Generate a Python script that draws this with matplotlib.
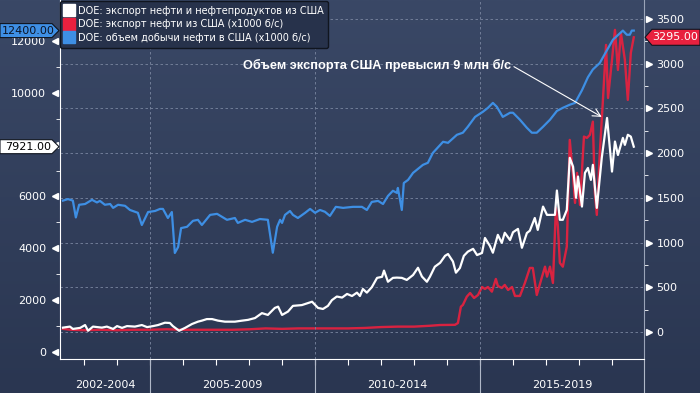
import numpy as np
import matplotlib.pyplot as plt
import matplotlib.transforms as mtrans
from matplotlib.patches import Polygon
from matplotlib.lines import Line2D
from matplotlib.colors import LinearSegmentedColormap

# US crude production, kb/d (left axis)
blue_x = [2002.36, 2002.51, 2002.66, 2002.75, 2002.85, 2003.03, 2003.24, 2003.39, 2003.48, 2003.63,
          2003.79, 2003.88, 2004.03, 2004.24, 2004.39, 2004.63, 2004.75, 2004.94, 2005.15, 2005.30,
          2005.39, 2005.54, 2005.66, 2005.75, 2005.85, 2005.94, 2006.12, 2006.30, 2006.45, 2006.57,
          2006.82, 2007.03, 2007.33, 2007.57, 2007.66, 2007.88, 2008.09, 2008.33, 2008.57, 2008.72,
          2008.85, 2008.94, 2009.00, 2009.09, 2009.24, 2009.33, 2009.48, 2009.70, 2009.85, 2010.00,
          2010.15, 2010.30, 2010.45, 2010.63, 2010.85, 2011.15, 2011.42, 2011.57, 2011.72, 2011.91,
          2012.06, 2012.21, 2012.36, 2012.48, 2012.51, 2012.63, 2012.69, 2012.82, 2012.97, 2013.27,
          2013.42, 2013.57, 2013.88, 2014.03, 2014.30, 2014.48, 2014.63, 2014.85, 2015.09, 2015.24,
          2015.39, 2015.51, 2015.69, 2015.91, 2016.00, 2016.21, 2016.42, 2016.57, 2016.72, 2016.91,
          2017.12, 2017.33, 2017.51, 2017.72, 2017.88, 2018.09, 2018.27, 2018.42, 2018.63, 2018.85,
          2019.03, 2019.33, 2019.45, 2019.54, 2019.60, 2019.66]
blue_v = [5840, 5900, 5840, 5190, 5680, 5710, 5870, 5770, 5830, 5680,
          5710, 5560, 5680, 5640, 5480, 5370, 4900, 5400, 5440, 5520,
          5520, 5170, 5400, 3820, 4050, 4780, 4830, 5060, 5100, 4900,
          5290, 5330, 5100, 5170, 4980, 5100, 5020, 5130, 5100, 3830,
          4830, 5100, 4980, 5290, 5440, 5290, 5170, 5370, 5520, 5370,
          5480, 5410, 5250, 5600, 5560, 5600, 5600, 5480, 5790, 5830,
          5710, 6020, 6220, 6140, 6330, 5480, 6520, 6640, 6910, 7220,
          7300, 7680, 8110, 8070, 8380, 8460, 8690, 9070, 9270, 9420,
          9610, 9460, 9070, 9230, 9230, 8960, 8650, 8460, 8460, 8690,
          8960, 9300, 9420, 9540, 9610, 10100, 10600, 10900, 11150, 11650,
          12050, 12400, 12240, 12240, 12400, 12400]

# crude + products exports, kb/d (left axis)
white_x = [2002.36, 2002.57, 2002.66, 2002.88, 2003.03, 2003.12, 2003.27, 2003.54, 2003.69, 2003.88,
           2004.00, 2004.15, 2004.30, 2004.54, 2004.75, 2004.91, 2005.09, 2005.24, 2005.45, 2005.60,
           2005.69, 2005.88, 2006.06, 2006.27, 2006.45, 2006.57, 2006.72, 2006.88, 2007.06, 2007.27,
           2007.57, 2007.79, 2007.97, 2008.18, 2008.39, 2008.57, 2008.78, 2008.88, 2009.00, 2009.18,
           2009.33, 2009.60, 2009.91, 2010.09, 2010.24, 2010.39, 2010.51, 2010.66, 2010.82, 2010.97,
           2011.12, 2011.27, 2011.36, 2011.45, 2011.57, 2011.72, 2011.88, 2012.03, 2012.09, 2012.21,
           2012.36, 2012.48, 2012.63, 2012.78, 2012.97, 2013.12, 2013.24, 2013.39, 2013.48, 2013.63,
           2013.79, 2013.94, 2014.03, 2014.18, 2014.27, 2014.39, 2014.51, 2014.63, 2014.79, 2014.91,
           2015.06, 2015.15, 2015.30, 2015.39, 2015.54, 2015.66, 2015.75, 2015.91, 2016.00, 2016.15,
           2016.27, 2016.42, 2016.51, 2016.66, 2016.75, 2016.91, 2017.03, 2017.18, 2017.27, 2017.33,
           2017.42, 2017.51, 2017.63, 2017.72, 2017.82, 2017.91, 2017.97, 2018.09, 2018.18, 2018.27,
           2018.36, 2018.42, 2018.54, 2018.69, 2018.85, 2018.94, 2019.00, 2019.09, 2019.18, 2019.33,
           2019.39, 2019.48, 2019.57, 2019.66]
white_v = [940, 980, 890, 930, 1040, 820, 980, 940, 980, 890,
           1000, 930, 1000, 980, 1040, 960, 1000, 1040, 1130, 1120,
           1000, 820, 930, 1080, 1170, 1210, 1270, 1270, 1210, 1170,
           1170, 1210, 1240, 1310, 1500, 1430, 1700, 1750, 1430, 1560,
           1780, 1810, 1940, 1700, 1660, 1780, 2000, 2140, 2100, 2240,
           2160, 2290, 2160, 2430, 2290, 2500, 2860, 2900, 3140, 2710,
           2860, 2870, 2860, 2780, 2970, 3250, 2910, 2710, 2900, 3290,
           3440, 3710, 3780, 3490, 3060, 3240, 3710, 3870, 3980, 3740,
           3820, 4400, 4090, 3830, 4520, 4210, 4600, 4320, 4620, 4750,
           4020, 4590, 4680, 5170, 4710, 5610, 5290, 5290, 5290, 6230,
           5100, 5100, 5480, 7490, 7150, 5950, 6770, 5610, 6910, 7100,
           6640, 7220, 5560, 7490, 9030, 7800, 6960, 8120, 7600, 8260,
           7990, 8380, 8310, 7921]

# crude exports, kb/d (right axis)
red_x = [2002.36, 2002.60, 2003.00, 2003.50, 2004.00, 2004.50, 2005.00, 2005.50, 2006.00, 2006.50,
         2007.00, 2007.50, 2008.00, 2008.50, 2009.00, 2009.50, 2010.00, 2010.50, 2011.00, 2011.50,
         2012.00, 2012.50, 2013.00, 2013.50, 2013.79, 2014.24, 2014.33, 2014.42, 2014.48, 2014.60,
         2014.70, 2014.82, 2014.94, 2015.06, 2015.15, 2015.24, 2015.36, 2015.48, 2015.54, 2015.66,
         2015.75, 2015.85, 2015.97, 2016.06, 2016.21, 2016.36, 2016.51, 2016.60, 2016.72, 2016.88,
         2016.97, 2017.03, 2017.12, 2017.21, 2017.30, 2017.36, 2017.42, 2017.51, 2017.63, 2017.72,
         2017.82, 2017.88, 2017.94, 2018.03, 2018.15, 2018.24, 2018.33, 2018.42, 2018.48, 2018.54,
         2018.63, 2018.72, 2018.82, 2018.88, 2019.00, 2019.09, 2019.18, 2019.27, 2019.39, 2019.48,
         2019.57, 2019.66]
red_v = [35, 25, 20, 25, 20, 25, 25, 30, 25, 25,
         25, 25, 30, 40, 35, 40, 40, 40, 40, 45,
         55, 60, 60, 70, 78, 80, 100, 283, 302, 395,
         436, 380, 414, 503, 481, 503, 451, 593, 515, 492,
         526, 470, 503, 403, 403, 548, 716, 716, 414, 619,
         730, 619, 730, 548, 1387, 1178, 772, 730, 954, 2148,
         1737, 1443, 1779, 1421, 2185, 2170, 2204, 2352, 1555, 1309,
         2002, 2561, 3210, 2617, 3043, 3378, 2930, 3344, 3043, 2595,
         3120, 3295]

labels = ['DOE: экспорт нефти и нефтепродуктов из США',
          'DOE: экспорт нефти из США (x1000 б/с)',
          'DOE: объем добычи нефти в США (x1000 б/с)']
groups = ['2002-2004', '2005-2009', '2010-2014', '2015-2019']
bounds = [2002.27, 2005, 2010, 2015, 2019.97]
left_ticks = [0, 2000, 4000, 6000, 8000, 10000, 12000]
left_ticklabels = ['0', '2000', '4000', '6000', '', '10000', '12000']  # 8000 sits under the tag

c_blue = '#3e8fe4'
c_red = '#e8213f'
fg = 'white'

fig = plt.figure(figsize=(7, 3.93), dpi=100)

# background gradient
bg = fig.add_axes([0, 0, 1, 1], zorder=-10)
grad = np.linspace(0, 1, 256).reshape(-1, 1)
cmap = LinearSegmentedColormap.from_list('bg', ['#2a3651', '#3a4866'])
bg.imshow(grad, aspect='auto', cmap=cmap, origin='lower', extent=[0, 1, 0, 1])
bg.axis('off')

ax = fig.add_axes([60/700, 34/393, 584/700, 359/393])
ax2 = ax.twinx()
ax.set_zorder(ax2.get_zorder() + 1)
ax.patch.set_visible(False)
ax2.patch.set_visible(False)

ax2.plot(red_x, red_v, color=c_red, lw=1.7, alpha=0.92)
ax.plot(blue_x, blue_v, color=c_blue, lw=1.6, zorder=3)
ax.plot(white_x, white_v, color=fg, lw=1.6, zorder=4)

ax.set_xlim(bounds[0], bounds[-1])
ax.set_ylim(-270, 13580)
ax2.set_ylim(-302, 3712)

# grid
ax2.set_yticks(range(0, 3501, 500))
ax2.set_yticks(range(250, 3500, 500), minor=True)
ax2.grid(axis='y', color='#7a86a0', lw=0.6, ls=(0, (3, 3)))
for yr in bounds[1:-1]:
    ax.axvline(yr, color='#7a86a0', lw=0.6, ls=(0, (3, 3)), zorder=1)

# spines
for s in ['top', 'right']:
    ax.spines[s].set_visible(False)
for s in ['top', 'left', 'bottom']:
    ax2.spines[s].set_visible(False)
ax.spines['left'].set_color(fg)
ax.spines['bottom'].set_color(fg)
ax2.spines['right'].set_color('#9aa4b8')
ax2.spines['right'].set_linewidth(0.8)

# left axis ticks
ax.set_yticks(left_ticks)
ax.set_yticklabels(left_ticklabels)
ax.set_yticks(range(1000, 12000, 2000), minor=True)
ax.tick_params(axis='y', which='major', length=0, pad=10, labelsize=8, labelcolor=fg)
ax.tick_params(axis='y', which='minor', length=3, color=fg)
tl = mtrans.blended_transform_factory(ax.transAxes, ax.transData)
ax.plot([-0.008] * len(left_ticks), left_ticks, ls='none', marker='<', ms=5,
        color=fg, transform=tl, clip_on=False)

# right axis ticks
ax2.tick_params(axis='y', which='major', length=0, pad=9, labelsize=8, labelcolor=fg)
ax2.tick_params(axis='y', which='minor', length=3, color=fg)
tr = mtrans.blended_transform_factory(ax2.transAxes, ax2.transData)
ax2.plot([1.008] * 8, range(0, 3501, 500), ls='none', marker='>', ms=5,
         color=fg, transform=tr, clip_on=False)

# x axis
ax.set_xticks(range(2003, 2020))
ax.tick_params(axis='x', length=4, color=fg, labelbottom=False)
tx = mtrans.blended_transform_factory(ax.transData, ax.transAxes)
for yr in bounds[1:]:
    ax.plot([yr, yr], [0, -0.1], color='#b0b8c8', lw=0.8, transform=tx, clip_on=False)
for i, g in enumerate(groups):
    ax.text((bounds[i] + bounds[i + 1]) / 2, -0.072, g, transform=tx, ha='center',
            va='center', color=fg, fontsize=8)

# annotation
ax.annotate('Объем экспорта США превысил 9 млн б/с', xy=(2018.69, 9070),
            xytext=(2011.88, 11070), ha='center', va='center', color=fg,
            fontsize=9.2, fontweight='bold', family='Liberation Sans',
            arrowprops=dict(arrowstyle='->', color=fg, lw=0.8, relpos=(1, 0.5),
                            shrinkA=0, shrinkB=0, mutation_scale=14))

# legend
handles = [Line2D([], [], ls='none', marker='s', ms=8, color=c) for c in [fg, c_red, c_blue]]
leg = ax.legend(handles, labels, loc='upper left', bbox_to_anchor=(60/700, 392/393),
                bbox_transform=fig.transFigure, fontsize=7, frameon=True,
                facecolor='#27324b', edgecolor='#10151f', framealpha=1, labelcolor=fg,
                handlelength=0.8, handletextpad=0.5, borderpad=0.5, labelspacing=0.35,
                borderaxespad=0)
leg.get_frame().set_linewidth(1.0)


# value tags
def tag(axis, val, side, fc, tc, text):
    y = axis.transData.transform((0, val))[1]
    if side == 'left':
        pts = [(0, y - 7), (52, y - 7), (59, y), (52, y + 7), (0, y + 7)]
        tx0 = 28
    else:
        pts = [(645, y), (652, y - 8), (700, y - 8), (700, y + 8), (652, y + 8)]
        tx0 = 675
    fig.add_artist(Polygon(pts, closed=True, fc=fc, ec='#10151f', lw=0.8, zorder=10,
                           transform=mtrans.IdentityTransform()))
    fig.text(tx0, y, text, color=tc, fontsize=8, ha='center', va='center', zorder=11,
             transform=mtrans.IdentityTransform())


tag(ax, blue_v[-1], 'left', c_blue, '#0b1426', '%.2f' % blue_v[-1])
tag(ax, white_v[-1], 'left', fg, 'black', '%.2f' % white_v[-1])
tag(ax2, red_v[-1], 'right', c_red, fg, '%.2f' % red_v[-1])

fig.savefig('out.png', dpi=100)
